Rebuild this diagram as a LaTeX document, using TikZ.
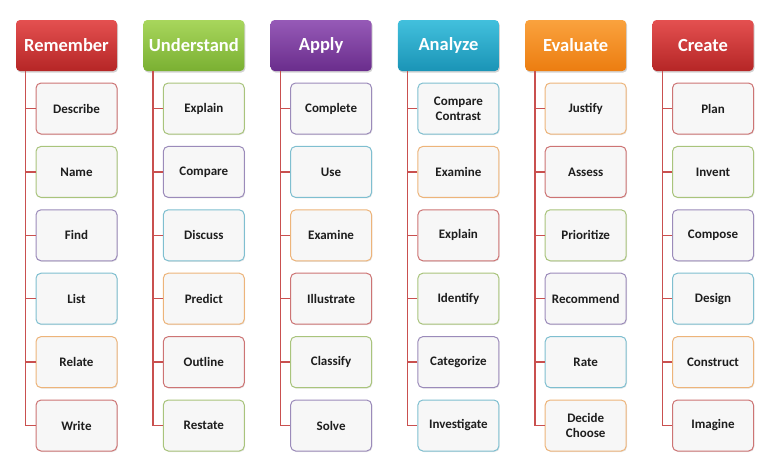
\documentclass[tikz,border=0pt]{standalone}
\usepackage{fontspec}
\setmainfont{Carlito}
\usetikzlibrary{shadows}
\definecolor{pal0}{HTML}{CD7474}
\definecolor{pal1}{HTML}{A9C47C}
\definecolor{pal2}{HTML}{9B8BBA}
\definecolor{pal3}{HTML}{7FBFD0}
\definecolor{pal4}{HTML}{EDB47A}
\definecolor{ht0}{HTML}{E45050}
\definecolor{hb0}{HTML}{B52626}
\definecolor{ht1}{HTML}{A8D65C}
\definecolor{hb1}{HTML}{7AB032}
\definecolor{ht2}{HTML}{965AB7}
\definecolor{hb2}{HTML}{6A2D8C}
\definecolor{ht3}{HTML}{42C0DD}
\definecolor{hb3}{HTML}{1A94B6}
\definecolor{ht4}{HTML}{FAA23E}
\definecolor{hb4}{HTML}{EC7D10}
\definecolor{connc}{HTML}{C9504F}
\definecolor{txt}{HTML}{1E1E1E}
\tikzset{
  header/.style={rounded corners=4pt, minimum width=101pt, minimum height=51pt,
    inner sep=0pt, text=white, font=\fontsize{18.5}{20}\selectfont\bfseries,
    drop shadow={shadow xshift=1pt, shadow yshift=-1.5pt, opacity=0.35}},
  item/.style={rounded corners=5pt, minimum width=81pt, minimum height=51pt,
    inner sep=0pt, fill=black!3, line width=1pt, text=txt, align=center,
    font=\fontsize{13}{15}\selectfont\bfseries,
    drop shadow={shadow xshift=0.8pt, shadow yshift=-1pt, opacity=0.2}},
  conn/.style={draw=connc, line width=1.3pt}
}
\begin{document}
\begin{tikzpicture}[x=1pt,y=-1pt]
\useasboundingbox (0,0) rectangle (776,475);
\foreach \i/\hd/\items in {
  0/Remember/{Describe,Name,Find,List,Relate,Write},
  1/Understand/{Explain,Compare,Discuss,Predict,Outline,Restate},
  2/Apply/{Complete,Use,Examine,Illustrate,Classify,Solve},
  3/Analyze/{{Compare\\Contrast},Examine,Explain,Identify,Categorize,Investigate},
  4/Evaluate/{Justify,Assess,Prioritize,Recommend,Rate,{Decide\\Choose}},
  5/Create/{Plan,Invent,Compose,Design,Construct,Imagine}} {
  \pgfmathtruncatemacro\hk{mod(\i,5)}
  \node[header, top color=ht\hk, bottom color=hb\hk] (h\i) at (66.5+127.3*\i,45.5) {\hd};
  \foreach \t [count=\j from 0] in \items {
    \pgfmathtruncatemacro\k{mod(\i+\j,5)}
    \node[item, draw=pal\k] (c\i-\j) at (76.5+127.3*\i,108.5+63.4*\j) {\t};
  }
  \draw[conn] ([xshift=10pt]h\i.south west) |- (c\i-5.west);
  \foreach \j in {0,...,4} {
    \draw[conn] (c\i-\j.west) -- ++(-10pt,0);
  }
}
\end{tikzpicture}
\end{document}
